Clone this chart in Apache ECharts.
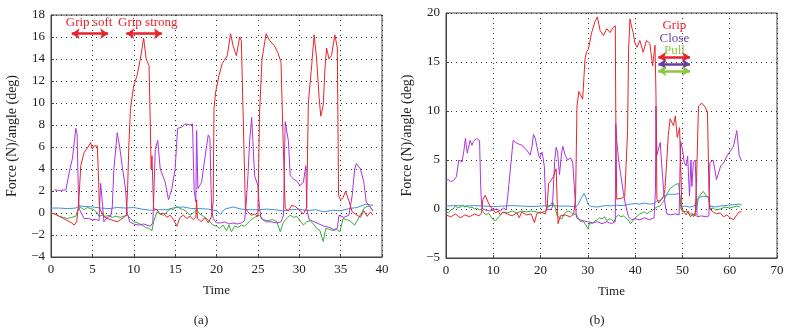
<!DOCTYPE html>
<html>
<head>
<meta charset="utf-8">
<script src="https://cdn.jsdelivr.net/npm/echarts@6/dist/echarts.min.js"></script>
<style>
  html, body { margin: 0; background: #fff; }
  #chart { width: 792px; height: 331px; }
</style>
</head>
<body>
<div id="chart"></div>
<script>
// ---- panel (a) ----
const gripA = [[0,0],[0.5,-0.1],[1,-0.3],[1.5,-0.5],[2,-0.7],[2.5,-0.9],[2.8,-1.1],[3.1,-0.8],[3.3,0.5],[3.4,1.6],[3.6,4.3],[4,5.5],[4.4,5.9],[4.8,6.4],[5,5.8],[5.2,6.1],[5.6,6.1],[5.75,3],[5.85,0.4],[6.1,0.1],[6.4,-0.3],[6.8,-0.5],[7.2,-0.6],[7.6,-0.7],[8,-0.8],[8.4,-0.6],[8.8,-0.4],[9.1,-0.2],[9.25,2],[9.4,6],[9.6,9.5],[10,11.6],[10.4,12.5],[10.8,14],[11.2,15.9],[11.5,14],[11.85,13.4],[12,8],[12.1,4],[12.2,5.2],[12.4,0.4],[12.8,0.3],[13.2,-0.1],[13.6,0],[14,-0.4],[14.4,-0.2],[14.8,-0.6],[15.2,-1.2],[15.6,-0.4],[16,-0.2],[16.4,-0.5],[16.8,-0.3],[17.2,-0.6],[17.5,-0.4],[17.6,1.2],[17.7,-0.5],[18.2,-0.8],[18.6,-0.4],[19,-0.9],[19.4,-0.3],[19.6,1],[19.7,9.5],[19.9,11],[20.3,12.5],[20.7,13.6],[21.3,14.3],[21.7,16.3],[22,15.2],[22.4,14.3],[22.8,16],[23,15.7],[23.2,9.5],[23.5,0.4],[23.8,0.1],[24.2,-0.2],[24.6,-0.1],[25,-0.3],[25.2,9],[25.5,14],[26,16.3],[26.4,15.7],[27,15.2],[27.4,14.6],[27.8,13.7],[28,8],[28.3,0.4],[28.7,0.2],[29.1,0.7],[29.5,0.6],[30,0.3],[30.5,-0.1],[30.9,0.5],[31.1,10],[31.5,13.4],[31.8,16.2],[32.1,14],[32.4,10.5],[32.6,8.8],[32.9,9.8],[33.1,13],[33.3,15],[33.6,14],[33.9,14.3],[34.3,16.2],[34.6,15],[34.75,1.6],[35,1.2],[35.3,1.4],[35.6,2],[36,1.1],[36.4,0.1],[36.8,-0.1],[37.4,-0.4],[37.8,0.2],[38.2,-0.3],[38.6,0.1],[38.9,-0.2]];
const closeA = [[0.4,2.1],[1,2.05],[1.8,2.1],[2.2,3.7],[2.6,5],[3,7.7],[3.15,7.2],[3.3,2],[3.4,0.4],[4,-0.5],[4.5,-0.5],[5,-0.6],[5.5,-0.6],[5.8,-0.7],[6,2.7],[6.2,1],[6.4,-0.8],[6.8,-0.4],[7.2,-0.3],[7.4,0.5],[7.6,4],[8,7.3],[8.3,6],[8.6,4.3],[9,2.2],[9.2,0.1],[9.5,-0.8],[10,-1],[10.6,-1.1],[11.2,-1],[11.6,-1.1],[12,-1.2],[12.3,-0.9],[12.4,1],[12.6,5.8],[12.9,6.6],[13.2,4],[13.8,2.8],[14.2,1.2],[14.6,2.2],[15,4],[15.3,7.7],[15.8,7.8],[16.2,8.1],[16.8,8],[17.1,8.1],[17.3,2],[17.5,1],[17.6,7.5],[17.75,2.2],[18.2,2.8],[18.6,5],[19,7.1],[19.2,6.8],[19.4,0.4],[19.6,-0.5],[20,-0.9],[20.5,-0.9],[21,-0.8],[21.5,-1],[22,-0.9],[22.5,-1],[23,-0.9],[23.4,-0.7],[23.6,1],[23.8,3.4],[24,6.5],[24.25,8.7],[24.4,6.5],[24.6,3.4],[25,2.5],[25.2,0.4],[25.4,-0.5],[26,-0.8],[26.6,-0.8],[27.2,-0.9],[27.8,-0.8],[28.1,-0.2],[28.3,8.3],[28.5,8.4],[28.7,6.5],[28.9,3.4],[29.3,3.1],[29.7,2.9],[30.1,2.5],[30.5,2.8],[30.7,2.7],[30.8,4.3],[30.9,0.4],[31.2,-0.6],[31.8,-0.8],[32.4,-1],[33,-1.2],[33.6,-1.3],[34.2,-1.5],[34.6,-1.4],[34.8,-0.2],[35.4,-0.4],[36,-0.2],[36.4,1.6],[36.7,4],[36.9,4.5],[37.4,4],[37.8,2.8],[38.1,1],[38.4,0.7],[38.7,0.4],[38.9,0.2]];
const pullA = [[0,0],[0.5,-0.1],[1,-0.3],[1.5,-0.4],[2,-0.5],[2.5,-0.4],[3,-0.3],[3.3,0.4],[3.6,0.5],[4,0.3],[4.4,0.5],[4.8,0.4],[5.2,0.3],[5.6,0],[5.8,-0.3],[6.2,-0.2],[6.6,-0.3],[7,-0.2],[7.4,-0.4],[7.8,-0.3],[8.4,-0.4],[8.8,-0.3],[9.2,-0.2],[9.6,-0.5],[10,-0.8],[10.5,-0.9],[11,-1.1],[11.4,-1.3],[11.8,-1.4],[12.2,-1.6],[12.4,-0.8],[12.8,0.1],[13.2,-0.1],[13.6,-0.2],[14,0.1],[14.4,0.4],[14.8,0.3],[15.2,0.6],[15.6,0.4],[16,0.3],[16.4,0.1],[16.8,-0.2],[17.2,0],[17.6,0.3],[18,-0.1],[18.4,-0.3],[18.8,-0.5],[19.2,-0.8],[19.6,-1.1],[20,-1.2],[20.4,-1.4],[20.8,-1.1],[21.2,-1.6],[21.5,-1.1],[21.8,-1.7],[22.2,-1.2],[22.6,-1.3],[23,-1.1],[23.4,-1.2],[23.8,-0.9],[24.2,-0.6],[24.6,-0.4],[25.2,-0.2],[25.6,-0.6],[26.2,-0.7],[26.8,-0.6],[27.3,-0.8],[27.7,-1.7],[28.1,-0.8],[28.5,-0.5],[28.9,-0.2],[29.3,-0.4],[29.7,-0.3],[30.1,-0.7],[30.5,-1.1],[30.9,-0.8],[31.3,-0.7],[31.7,-1],[32.1,-1.4],[32.5,-1.6],[32.9,-2.6],[33.2,-1.4],[33.7,-1.5],[34.1,-1.6],[34.5,-1.5],[34.9,-1.7],[35.3,-0.5],[35.7,-0.6],[36.1,-0.7],[36.7,-1.1],[37.3,-0.3],[37.9,0.5],[38.5,0.65],[38.9,0.2]];
const otherA = [[0,0.45],[1,0.45],[2,0.4],[3,0.45],[3.4,0.65],[4,0.6],[5,0.55],[6,0.45],[7,0.4],[8,0.5],[9,0.45],[10,0.5],[11,0.35],[12,0.25],[13,0.3],[14,0.3],[15,0.5],[16,0.55],[17,0.4],[18,0.4],[19,0.35],[20,0.2],[20.5,-0.1],[21,0.35],[22,0.55],[23,0.35],[24,0.3],[25,0.3],[26,0.35],[27,0.3],[28,0.2],[29,0.3],[30,0.35],[31,0.2],[32,0.3],[33,0.1],[34,0.25],[35,0.2],[36,0.4],[37,0.5],[38,0.8],[38.9,0.7]];

// ---- panel (b) ----
const gripB = [[0,-0.6],[1,-0.8],[2,-0.5],[3,-0.9],[4,-0.6],[5,-0.8],[6,-0.5],[7,-0.7],[7.5,-0.4],[7.8,1],[8.3,1.4],[8.8,0.8],[9.3,0.3],[10,-0.1],[10.5,-0.4],[11,-0.2],[11.5,-0.6],[12,-0.3],[13,-0.5],[14,-0.7],[15,-0.4],[15.5,-0.9],[16,-0.3],[17,-0.6],[18,-0.5],[18.7,-1.4],[19.2,-0.5],[20,-0.3],[21,-0.5],[21.4,0.3],[21.7,2.6],[22.2,2.9],[22.7,3.3],[23.3,4.1],[23.5,1],[23.7,-1.5],[24.2,-0.7],[24.5,-0.9],[25.2,-0.6],[26.3,-0.8],[27,-0.5],[27.4,1],[27.7,10.5],[28.1,12],[28.4,11.9],[28.9,11.2],[29.4,15.3],[29.7,16],[30.1,16.3],[30.8,18],[31.5,19.1],[32,19.6],[32.6,18.2],[33.3,17.7],[34,18.4],[34.7,18],[35.3,18.5],[35.8,18.7],[35.9,10],[36.1,1],[36.5,0.9],[37.2,1.1],[37.8,1.3],[38.2,1.1],[38.4,8],[38.6,16],[38.9,19.4],[39.3,18.5],[39.6,18],[39.9,17],[40.4,16.5],[41,17.2],[41.7,16],[42.4,17.2],[43.1,16.9],[43.7,14.6],[44.2,16.7],[44.4,11.9],[44.6,1],[45,0.6],[45.3,0.75],[46,1.3],[46.3,2],[46.7,5],[47,7.5],[47.4,9.2],[48.1,8.5],[48.5,9.5],[48.9,7.3],[49.4,8.3],[49.7,8.1],[49.9,0],[50.3,-0.3],[50.8,-0.6],[51.2,-0.2],[51.7,-0.8],[52.2,-0.5],[52.7,-0.7],[53,3.3],[53.4,10.5],[54.1,10.8],[54.8,10.4],[55.3,9.9],[55.6,2],[55.8,0],[56.5,-0.3],[57.2,-0.5],[58,-0.4],[58.7,-0.8],[59.4,-0.6],[60.1,-0.9],[60.8,-1.1],[61.5,-0.6],[62,-0.3],[62.5,-0.3]];
const closeB = [[0,2.9],[0.5,3],[1,2.8],[1.6,2.9],[2.2,3.3],[2.7,5],[3.1,5.2],[3.4,4.8],[3.8,6],[4.1,7.2],[4.5,5.7],[5.1,7],[5.5,6.5],[5.8,6.9],[6.4,7.2],[6.8,7],[7.1,7],[7.3,3],[7.5,0.5],[7.8,0],[8.3,-0.1],[8.7,-0.3],[9.3,-0.2],[10,-0.1],[10.7,0],[11.5,-0.2],[12.2,0.1],[12.7,-0.1],[13,1],[13.3,2.5],[13.6,4],[14,6],[14.2,7],[14.6,6.8],[15,6.7],[15.5,6.6],[16.1,6.5],[16.6,6.2],[17.1,6],[17.5,5.8],[17.8,5.5],[18.2,6.4],[18.5,7.6],[18.9,7.2],[19.2,6.4],[19.6,5.5],[19.8,5.2],[20.3,5.8],[20.6,5],[20.8,4.3],[21.1,0.5],[21.3,0],[21.6,-0.2],[22,-0.1],[22.5,0.2],[23,5],[23.3,6.3],[23.6,5.8],[24,3.5],[24.4,5.5],[24.7,6.4],[25.2,5.5],[25.7,5],[26.3,5.2],[26.8,4.8],[27.1,5],[27.3,1],[27.6,-0.9],[28.2,-1.1],[29,-1.2],[30,-1.3],[31,-1.4],[32,-1.3],[33,-1.5],[34,-1.3],[35,-1.5],[35.8,-1.3],[35.9,8.7],[36.1,7],[36.5,5],[36.9,3.7],[37.5,1.7],[37.9,0.6],[38.6,-0.8],[39.2,-1.1],[40,-1],[41,-1.1],[42,-0.9],[43,-1.1],[44,-0.9],[44.3,2],[44.4,10.5],[44.6,5.5],[44.9,5.7],[45.3,6.8],[45.6,4.7],[46,2],[46.3,0.6],[46.7,-0.5],[47.5,-0.6],[48.5,-0.5],[49.3,-0.6],[49.6,6.9],[50,6.1],[50.4,4.7],[50.8,4.4],[51.1,5.4],[51.5,1.3],[51.8,5],[52,2.3],[52.3,4.7],[52.7,5],[52.9,2],[53.1,-0.8],[54,-0.7],[55,-0.8],[55.6,-0.7],[55.8,4.7],[56.5,5],[57.2,3],[57.6,3.1],[58.1,4.4],[58.7,4.7],[59.4,5.4],[60.1,5.9],[60.8,6.4],[61.5,8],[61.8,7.8],[62,5.5],[62.5,4.9]];
const pullB = [[0,-0.3],[0.5,-0.4],[1,-0.1],[1.5,0],[2,0.3],[2.5,0.1],[3,0.2],[3.5,0.4],[4,0.2],[4.5,0.3],[5,0.1],[5.5,0.2],[6,0],[6.5,0.1],[7,-0.1],[7.5,0],[8,-0.4],[8.5,-0.6],[9,-0.4],[9.5,-0.8],[10,-1.1],[10.5,-1.2],[11,-0.9],[11.5,-0.6],[12,-0.4],[12.5,-0.3],[13,-0.4],[14,-0.2],[15,-0.4],[16,-0.2],[17,-0.3],[18,-0.2],[19,-0.3],[20,-0.4],[21,-0.2],[21.5,0.2],[22,0.3],[22.5,0.7],[23,0.3],[23.5,-0.7],[24,-0.9],[24.5,-1],[25,-0.5],[25.5,-0.3],[26,-0.2],[26.5,-0.4],[27,-0.6],[27.5,-0.5],[28,-0.9],[28.5,-1.3],[29,-1.2],[29.5,-1.6],[30,-2],[30.4,-1.4],[31,-1.5],[31.5,-1.2],[32,-1.1],[32.5,-0.9],[33,-1],[33.5,-0.8],[34,-1.2],[34.5,-1],[35,-1.1],[35.5,-1.3],[36,-0.8],[36.5,-0.6],[37,-0.8],[37.5,-0.7],[38,-0.9],[38.5,-1.1],[39,-1.5],[39.5,-1.2],[40,-0.9],[40.5,-0.7],[41,-0.5],[41.5,-0.4],[42,-0.3],[42.5,-0.5],[43,-0.3],[43.5,-0.2],[44,0],[44.6,0.2],[45.3,0.3],[46,0.8],[46.3,1.1],[46.8,1.6],[47.4,2.1],[48,2.3],[48.5,2.5],[49.2,2.6],[49.5,2.7],[49.7,0],[50.1,-0.3],[50.5,-0.5],[51,-0.2],[51.5,-0.6],[52,-0.4],[52.3,-0.8],[53,0],[53.4,1.2],[53.7,1.4],[54.4,1.8],[55.1,1.3],[55.6,1.2],[55.8,0],[56.5,0.1],[57,-0.1],[58,0],[59,0.2],[60,0.1],[60.8,0.2],[61.5,0.3],[62.2,0.2]];
const otherB = [[0,0.3],[2,0.35],[4,0.3],[6,0.35],[8,0.3],[10,0.25],[12,0.3],[14,0.35],[16,0.3],[18,0.25],[20,0.3],[22,0.35],[24,0.3],[26,0.3],[27.5,0.2],[28,0.5],[28.6,1.1],[29.2,1.6],[29.6,1.2],[30,0.5],[30.5,0.3],[31,0.25],[32,0.2],[33,0.3],[34,0.35],[35,0.3],[36,0.4],[37,0.35],[38,0.4],[39,0.5],[40,0.55],[41,0.5],[42,0.6],[43,0.5],[44,0.55],[44.5,0.8],[45.3,0.9],[46,1.2],[46.8,1.5],[47.5,1.5],[48.5,1.5],[49.4,1.6],[49.7,0.2],[50.5,0.3],[51.5,0.2],[52.5,0.3],[53,0.8],[53.5,1.2],[54.5,1.3],[55.5,1.2],[55.8,0.3],[57,0.2],[58,0.3],[59,0.35],[60,0.4],[61,0.45],[62,0.5],[62.5,0.4]];

// annotations: [label, t, value]
const labelsA = [["Grip soft", 4.6, 17.3], ["Grip strong", 11.7, 17.3]];
const arrowsA = [[2.5, 6.9, 16.3], [9.1, 13.4, 16.3]];
const labelsB = [["Grip", 48.3, 18.7], ["Close", 48.3, 17.4], ["Pull", 48.3, 16.15]];
const arrowsB = [[44.9, 51.6, 15.5], [44.9, 51.6, 14.8], [44.9, 51.6, 14.1]];

const RED = "#e8232b", PURPLE = "#aa33e0", GREEN = "#3aa83a", BLUE = "#3f8fdc";
const annColorsB = ["#e8232b", "#6a3fa0", "#8cc63f"];
const FONT = "Liberation Serif";

const chart = echarts.init(document.getElementById("chart"));

function xAxisOf(grid, max) {
  return {
    type: "value", gridIndex: grid, min: 0, max: max, interval: grid === 0 ? 5 : 10,
    name: "Time", nameLocation: "middle", nameGap: 27,
    nameTextStyle: { fontFamily: FONT, fontSize: 13, color: "#222" },
    axisLine: { onZero: false, lineStyle: { color: "#444" } },
    axisTick: { inside: true, length: 3, lineStyle: { color: "#444" } },
    axisLabel: { fontFamily: FONT, fontSize: 13, color: "#222", margin: 6 },
    splitLine: { show: true, lineStyle: { color: "#333", type: [1, 4], width: 1 } }
  };
}
function yAxisOf(grid, min, max, step) {
  return {
    type: "value", gridIndex: grid, min: min, max: max, interval: step,
    name: "Force (N)/angle (deg)", nameLocation: "middle", nameGap: 32,
    nameTextStyle: { fontFamily: FONT, fontSize: 14, color: "#222" },
    axisLine: { onZero: false, lineStyle: { color: "#444" } },
    axisTick: { inside: true, length: 3, lineStyle: { color: "#444" } },
    axisLabel: {
      fontFamily: FONT, fontSize: 13, color: "#222", margin: 6,
      formatter: v => String(v).replace("-", "\u2212")
    },
    splitLine: { show: true, lineStyle: { color: "#333", type: [1, 4], width: 1 } }
  };
}
function line(data, color, grid) {
  return {
    type: "line", xAxisIndex: grid, yAxisIndex: grid, data: data,
    showSymbol: false, symbol: "none", smooth: false,
    lineStyle: { width: 1, color: color }, itemStyle: { color: color },
    silent: true, z: 3
  };
}
function textMarks(list, colors) {
  return {
    symbol: "rect", symbolSize: 1, itemStyle: { color: "rgba(0,0,0,0)" },
    data: list.map((l, i) => ({
      coord: [l[1], l[2]], name: l[0],
      label: {
        show: true, position: "inside", formatter: "{b}",
        fontFamily: FONT, fontSize: 13, color: colors[i]
      }
    }))
  };
}
function arrowMarks(list, colors) {
  return {
    silent: true, symbol: ["arrow", "arrow"], symbolSize: [8, 8],
    label: { show: false },
    data: list.map((a, i) => [
      { coord: [a[0], a[2]], lineStyle: { color: colors[i], width: 2.5, type: "solid" }, itemStyle: { color: colors[i] } },
      { coord: [a[1], a[2]] }
    ])
  };
}

const redA = line(gripA, RED, 0);
redA.markLine = arrowMarks(arrowsA, [RED, RED]);
redA.markPoint = textMarks(labelsA, [RED, RED]);
const redB = line(gripB, RED, 1);
redB.markLine = arrowMarks(arrowsB, annColorsB);
redB.markPoint = textMarks(labelsB, annColorsB);

chart.setOption({
  animation: false,
  textStyle: { fontFamily: FONT },
  title: [
    { text: "(a)", left: 196, top: 309, textAlign: "center", textStyle: { fontFamily: FONT, fontSize: 13, fontWeight: "normal", color: "#222" } },
    { text: "(b)", left: 592, top: 309, textAlign: "center", textStyle: { fontFamily: FONT, fontSize: 13, fontWeight: "normal", color: "#222" } }
  ],
  grid: [
    { left: 51, right: 410, top: 15, bottom: 74, show: true, borderColor: "#444", borderWidth: 1, backgroundColor: "transparent" },
    { left: 446, right: 15, top: 13, bottom: 73, show: true, borderColor: "#444", borderWidth: 1, backgroundColor: "transparent" }
  ],
  xAxis: [xAxisOf(0, 40), xAxisOf(1, 70)],
  yAxis: [yAxisOf(0, -4, 18, 2), yAxisOf(1, -5, 20, 5)],
  series: [
    line(otherA, BLUE, 0), line(pullA, GREEN, 0), line(closeA, PURPLE, 0), redA,
    line(otherB, BLUE, 1), line(pullB, GREEN, 1), line(closeB, PURPLE, 1), redB
  ]
});
</script>
</body>
</html>
